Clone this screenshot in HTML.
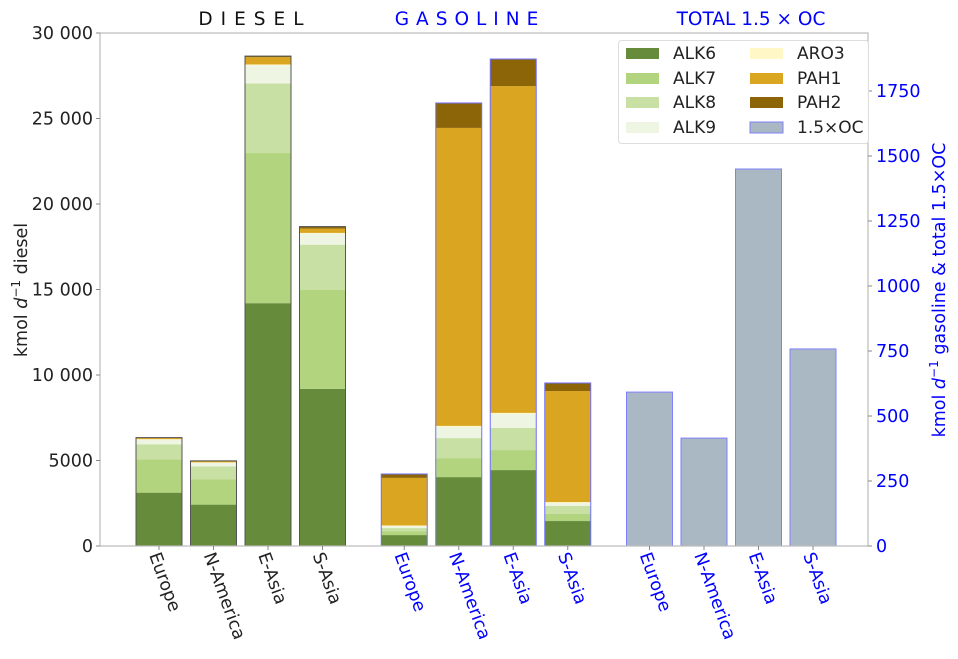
<!DOCTYPE html>
<html><head><meta charset="utf-8"><style>
body{margin:0;background:#fff}
svg text{font-family:"DejaVu Sans","Liberation Sans",sans-serif}
</style></head><body>
<svg id="chart" width="958" height="654" xmlns="http://www.w3.org/2000/svg"></svg>
<script>
const regions = ["Europe","N-America","E-Asia","S-Asia"];
const species = ["ALK6","ALK7","ALK8","ALK9","ARO3","PAH1","PAH2"];
const colors = ["#668b3a","#b2d47e","#c8e0a3","#eef5e2","#fff7c6","#daa520","#8b6508"];
// diesel (kmol/d), per region, per species
const dieselEurope = [3120,1950,880,250,50,60,30];
const dieselNAmerica = [2420,1470,770,200,30,60,30];
const dieselEAsia = [14200,8780,4070,1060,50,430,60];
const dieselSAsia = [9190,5780,2650,650,40,250,120];
// gasoline (right axis units)
const gasEurope = [42,15,12,7,3,183,15];
const gasNAmerica = [265,73,77,43,4,1146,96];
const gasEAsia = [292,77,85,54,4,1257,104];
const gasSAsia = [96,27,31,11,4,427,31];
// total 1.5 x OC (right axis)
const ocValues = [592,415,1450,758];
const leftTicks = [0,5000,10000,15000,20000,25000,30000];
const leftTickLabels = ["0","5000","10 000","15 000","20 000","25 000","30 000"];
const rightTicks = [0,250,500,750,1000,1250,1500,1750];

const svg = document.getElementById('chart');
const NS = "http://www.w3.org/2000/svg";
const X0=100, X1=868, Y0=546, YT=33;
const yL = v => Y0 - v*(Y0-YT)/30000;
const yR = v => Y0 - v*0.26;
const xPos = p => 159 + 54.5*p;
const BW = 46;
function mk(tag, attrs, parent){const e=document.createElementNS(NS,tag);for(const k in attrs)e.setAttribute(k,attrs[k]);(parent||svg).appendChild(e);return e;}

const dieselData=[dieselEurope,dieselNAmerica,dieselEAsia,dieselSAsia];
const gasData=[gasEurope,gasNAmerica,gasEAsia,gasSAsia];
const posD=[0,1,2,3], posG=[4.5,5.5,6.5,7.5], posO=[9,10,11,12];

function stack(vals, p, yf, edge, name){
  const g=mk('g',{});
  
  
  let acc=0;
  vals.forEach((v,i)=>{
    const r=mk('rect',{x:xPos(p)-BW/2,y:yf(acc+v),width:BW,height:yf(acc)-yf(acc+v),fill:colors[i]},g);
    
    
    acc+=v;
  });
  const o=mk('rect',{x:xPos(p)-BW/2,y:yf(acc),width:BW,height:Y0-yf(acc),fill:'none',stroke:edge,'stroke-width':1},g);
  
  
}
dieselData.forEach((d,i)=>stack(d,posD[i],yL,'#555','diesel-bar-'+regions[i].toLowerCase()));
gasData.forEach((d,i)=>stack(d,posG[i],yR,'#7070ff','gasoline-bar-'+regions[i].toLowerCase()));
ocValues.forEach((v,i)=>{
  const r=mk('rect',{x:xPos(posO[i])-BW/2,y:yR(v),width:BW,height:Y0-yR(v),fill:'#a9b8c2',stroke:'#8080ff','stroke-width':1});
  
  
});

// frame
const fr=mk('rect',{x:X0,y:YT,width:X1-X0,height:Y0-YT,fill:'none',stroke:'#bbb','stroke-width':1.2});



leftTicks.forEach((t,i)=>{
  mk('line',{x1:X0-4,x2:X0,y1:yL(t),y2:yL(t),stroke:'#888'});
  const tx=mk('text',{x:X0-7,y:yL(t)+6,'text-anchor':'end','font-size':17.5,fill:'#222'});
  tx.textContent=leftTickLabels[i];
  
  
});
rightTicks.forEach(t=>{
  mk('line',{x1:X1,x2:X1+4,y1:yR(t),y2:yR(t),stroke:'#888'});
  const tx=mk('text',{x:X1+8,y:yR(t)+6,'font-size':17.5,fill:'#0000ff'});
  tx.textContent=String(t);
  
  
});
const allPos=[...posD,...posG,...posO];
allPos.forEach((p,i)=>{
  const x=xPos(p);
  mk('line',{x1:x,x2:x,y1:Y0,y2:Y0+4,stroke:'#888'});
  const tx=mk('text',{x:0,y:0,'font-size':17.5,fill:i<4?'#222':'#0000ff',transform:`translate(${x-10},${Y0+9}) rotate(70)`});
  tx.textContent=regions[i%4];
  
  
});
</script>
<svg width="958" height="654" style="position:absolute;left:0;top:0" xmlns="http://www.w3.org/2000/svg">
<text x="255" y="25" text-anchor="middle" font-size="18.5" letter-spacing="8" fill="#111" font-family="DejaVu Sans">DIESEL</text>
<text x="470" y="25" text-anchor="middle" font-size="18.5" letter-spacing="7" fill="#0000ff" font-family="DejaVu Sans">GASOLINE</text>
<text x="751" y="25" text-anchor="middle" font-size="18.5" fill="#0000ff" font-family="DejaVu Sans">TOTAL 1.5 × OC</text>
<text transform="translate(27,290) rotate(-90)" text-anchor="middle" font-size="17.5" fill="#222" font-family="DejaVu Sans">kmol <tspan font-style="italic">d</tspan><tspan dy="-7" font-size="12">−1</tspan><tspan dy="7"> diesel</tspan></text>
<text transform="translate(945,290) rotate(-90)" text-anchor="middle" font-size="17.5" fill="#0000ff" font-family="DejaVu Sans">kmol <tspan font-style="italic">d</tspan><tspan dy="-7" font-size="12">−1</tspan><tspan dy="7"> gasoline &amp; total 1.5×OC</tspan></text>
<g font-family="DejaVu Sans" font-size="17" fill="#222">
<rect x="618.5" y="40.5" width="250" height="103" fill="#fff" fill-opacity="0.9" stroke="#ddd" rx="3"/>
<rect x="626" y="48" width="33" height="11" fill="#668b3a"/><text x="673" y="59">ALK6</text>
<rect x="626" y="73" width="33" height="11" fill="#b2d47e"/><text x="673" y="84">ALK7</text>
<rect x="626" y="97" width="33" height="11" fill="#c8e0a3"/><text x="673" y="108">ALK8</text>
<rect x="626" y="122" width="33" height="11" fill="#eef5e2"/><text x="673" y="133">ALK9</text>
<rect x="750" y="48" width="33" height="11" fill="#fff7c6"/><text x="797" y="59">ARO3</text>
<rect x="750" y="73" width="33" height="11" fill="#daa520"/><text x="797" y="84">PAH1</text>
<rect x="750" y="97" width="33" height="11" fill="#8b6508"/><text x="797" y="108">PAH2</text>
<rect x="750" y="122" width="33" height="11" fill="#a9b8c2" stroke="#8080ff"/><text x="797" y="133">1.5×OC</text>
</g>
</svg>
</body></html>
